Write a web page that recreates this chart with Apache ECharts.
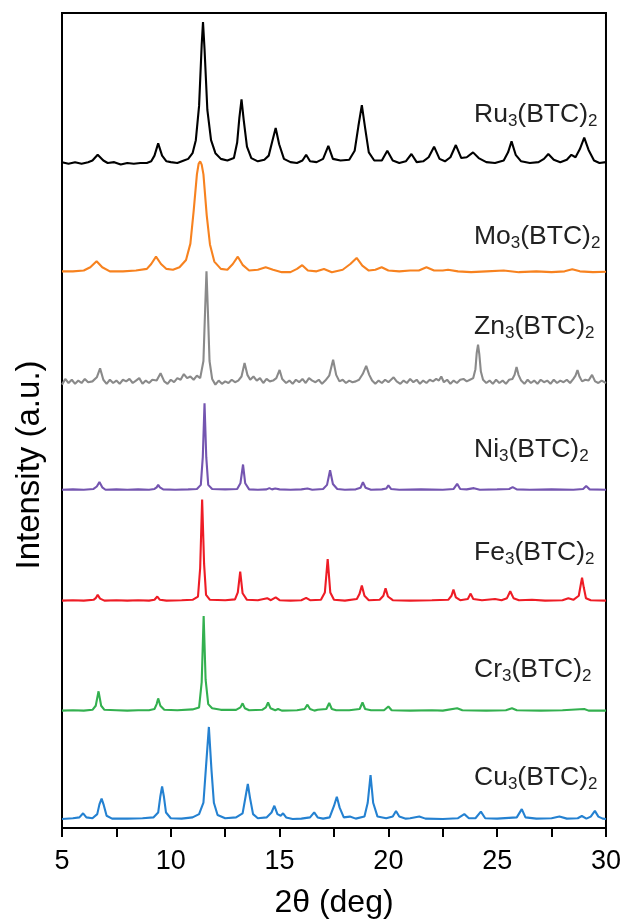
<!DOCTYPE html>
<html>
<head>
<meta charset="utf-8">
<script src="https://cdn.jsdelivr.net/npm/echarts@6/dist/echarts.min.js"></script>
<style>
html,body{margin:0;padding:0;background:#fff;}
#chart{width:624px;height:924px;}
</style>
</head>
<body>
<div id="chart"></div>
<script>
// ---- data (2θ in degrees, relative intensity in a.u.) ----
const metals = ["Ru", "Mo", "Zn", "Ni", "Fe", "Cr", "Cu"];
const offsets = [81.6, 68.2, 54.8, 41.5, 27.9, 14.4, 1.1];
const colors = ["#000000", "#f7821f", "#8a8a8a", "#7455b0", "#ee1c25", "#33b04f", "#2481d1"];
const xTicks = [5, 10, 15, 20, 25, 30];

const ru = [[5,0.1],[5.3,-0.1],[5.6,0.1],[5.9,-0.1],[6.2,0.1],[6.4,0.3],[6.64,1.0],[6.9,0.3],[7.1,0.0],[7.4,0.1],[7.7,-0.2],[8.0,0.0],[8.3,-0.1],[8.6,0.0],[8.9,0.0],[9.1,0.2],[9.25,0.9],[9.42,2.4],[9.6,0.9],[9.8,0.2],[10.0,0.1],[10.3,0.0],[10.6,0.3],[10.8,0.5],[11.0,1.2],[11.15,2.8],[11.3,7.0],[11.42,14.5],[11.48,17.3],[11.55,14.0],[11.68,6.5],[11.85,2.8],[12.05,1.2],[12.3,0.5],[12.6,0.3],[12.9,0.6],[13.05,2.5],[13.15,5.5],[13.25,7.8],[13.35,5.3],[13.5,2.0],[13.7,0.6],[14.0,0.2],[14.3,0.4],[14.5,0.9],[14.65,2.5],[14.82,4.3],[14.98,2.3],[15.2,0.5],[15.5,0.1],[15.8,0.0],[16.05,0.3],[16.22,1.0],[16.4,0.2],[16.7,0.1],[17.0,0.5],[17.24,2.1],[17.45,0.5],[17.8,0.3],[18.2,0.4],[18.45,1.5],[18.62,4.5],[18.78,7.1],[18.93,4.3],[19.1,1.3],[19.35,0.3],[19.7,0.3],[19.95,1.5],[20.2,0.3],[20.5,0.0],[20.8,0.2],[21.06,1.1],[21.3,0.1],[21.6,0.2],[21.85,0.7],[22.1,2.0],[22.35,0.5],[22.6,0.2],[22.85,0.7],[23.1,2.2],[23.35,0.6],[23.6,0.7],[23.89,1.3],[24.15,0.6],[24.5,0.1],[24.9,0.0],[25.3,0.3],[25.5,1.3],[25.66,2.65],[25.85,1.0],[26.1,0.2],[26.5,0.0],[26.9,0.1],[27.15,0.5],[27.35,1.1],[27.6,0.4],[27.9,0.1],[28.2,0.4],[28.41,1.0],[28.6,0.7],[28.8,1.7],[29.0,3.1],[29.2,1.6],[29.45,0.3],[29.7,0.0],[30,0.1]];

const mo = [[5,0.1],[5.5,0.1],[6.0,0.2],[6.3,0.6],[6.59,1.35],[6.85,0.6],[7.2,0.1],[7.8,0.1],[8.4,0.2],[8.9,0.4],[9.1,1.0],[9.32,1.9],[9.55,1.0],[9.8,0.4],[10.1,0.3],[10.4,0.6],[10.7,1.5],[10.9,3.5],[11.05,7.5],[11.2,12.0],[11.28,13.3],[11.35,13.6],[11.42,13.2],[11.5,12.0],[11.65,7.0],[11.8,3.4],[12.0,1.3],[12.3,0.4],[12.6,0.3],[12.85,1.0],[13.08,1.9],[13.3,0.9],[13.6,0.2],[14.0,0.3],[14.36,0.6],[14.7,0.3],[15.1,0.0],[15.5,0.0],[15.8,0.4],[16.04,0.86],[16.3,0.2],[16.7,0.1],[17.04,0.4],[17.4,0.0],[17.9,0.3],[18.25,1.0],[18.54,1.75],[18.8,0.8],[19.1,0.2],[19.4,0.3],[19.69,0.6],[20.0,0.2],[20.5,0.1],[21.0,0.2],[21.4,0.2],[21.75,0.6],[22.1,0.2],[22.5,0.2],[22.74,0.3],[23.2,0.1],[23.8,0.0],[24.5,0.1],[25.3,0.2],[26.0,0.0],[26.8,0.1],[27.5,0.0],[28.1,0.1],[28.45,0.35],[28.8,0.1],[29.4,0.0],[30,0.05]];

const zn = [[5,-0.4],[5.15,0.3],[5.3,-0.2],[5.45,0.2],[5.6,-0.3],[5.75,0.1],[5.9,-0.2],[6.05,0.3],[6.2,-0.1],[6.4,0.0],[6.6,0.5],[6.75,1.6],[6.9,0.2],[7.05,-0.3],[7.2,0.2],[7.35,-0.2],[7.5,0.1],[7.65,-0.3],[7.8,0.2],[7.95,0.0],[8.1,0.3],[8.25,-0.2],[8.4,0.1],[8.55,0.4],[8.7,-0.3],[8.85,0.1],[9.0,-0.2],[9.15,0.2],[9.35,0.1],[9.53,1.0],[9.7,0.0],[9.85,-0.3],[10.0,0.2],[10.15,-0.1],[10.3,0.4],[10.45,0.2],[10.6,0.9],[10.75,0.4],[10.9,0.6],[11.05,0.2],[11.2,0.7],[11.35,0.4],[11.5,2.5],[11.58,9.0],[11.64,13.5],[11.7,9.0],[11.78,2.5],[11.9,0.3],[12.05,-0.4],[12.2,0.1],[12.35,-0.3],[12.5,0.0],[12.65,-0.2],[12.8,0.2],[12.95,-0.1],[13.1,0.1],[13.25,0.6],[13.39,2.25],[13.52,0.8],[13.65,0.2],[13.8,0.6],[13.95,0.1],[14.1,0.4],[14.25,-0.2],[14.4,0.3],[14.55,0.0],[14.7,0.1],[14.85,0.4],[15.0,1.4],[15.12,0.3],[15.3,-0.2],[15.45,0.1],[15.6,-0.3],[15.75,0.2],[15.9,-0.1],[16.05,0.3],[16.2,-0.2],[16.35,0.4],[16.5,0.1],[16.65,-0.1],[16.8,0.2],[16.95,-0.3],[17.1,0.1],[17.28,0.7],[17.46,2.65],[17.6,0.8],[17.75,0.0],[17.9,0.2],[18.05,-0.2],[18.2,0.1],[18.35,-0.1],[18.5,0.0],[18.65,0.2],[18.82,0.9],[18.98,1.9],[19.12,0.8],[19.25,0.1],[19.4,-0.3],[19.55,0.1],[19.7,-0.2],[19.85,0.2],[20.0,-0.1],[20.12,0.2],[20.24,0.5],[20.38,0.0],[20.55,-0.3],[20.7,0.1],[20.85,-0.2],[21.0,0.3],[21.15,-0.1],[21.3,0.2],[21.45,-0.3],[21.6,0.1],[21.75,-0.2],[21.9,0.2],[22.05,0.0],[22.2,0.3],[22.32,0.1],[22.43,0.6],[22.55,-0.1],[22.7,0.2],[22.85,-0.3],[23.0,0.1],[23.15,-0.2],[23.3,0.2],[23.45,0.3],[23.6,0.0],[23.75,0.2],[23.9,0.4],[24.0,1.5],[24.06,3.5],[24.12,4.5],[24.18,3.3],[24.25,1.2],[24.35,0.2],[24.5,-0.2],[24.65,0.1],[24.8,-0.3],[24.95,0.2],[25.1,-0.2],[25.25,0.1],[25.4,-0.3],[25.55,0.2],[25.7,0.3],[25.8,0.8],[25.89,1.75],[25.98,0.8],[26.1,0.1],[26.25,-0.3],[26.4,0.2],[26.55,-0.2],[26.7,0.1],[26.85,-0.3],[27.0,0.2],[27.15,-0.1],[27.3,0.1],[27.45,-0.3],[27.6,0.2],[27.75,-0.2],[27.9,0.1],[28.05,-0.1],[28.2,0.2],[28.35,-0.2],[28.5,0.3],[28.6,0.7],[28.69,1.4],[28.78,0.6],[28.9,0.0],[29.05,0.2],[29.2,0.1],[29.36,0.8],[29.5,0.0],[29.65,-0.2],[29.8,0.1],[30,-0.2]];

const ni = [[5,0.0],[5.5,0.05],[6.0,0.0],[6.45,0.1],[6.6,0.4],[6.72,0.94],[6.85,0.3],[7.0,0.0],[7.5,0.05],[8.0,0.0],[8.5,0.05],[9.0,0.0],[9.25,0.1],[9.35,0.3],[9.42,0.6],[9.5,0.3],[9.65,0.05],[10.2,0.0],[10.8,0.05],[11.2,0.1],[11.38,0.6],[11.47,4.0],[11.55,10.6],[11.63,4.0],[11.72,0.6],[11.9,0.1],[12.5,0.05],[13.05,0.1],[13.2,0.8],[13.32,3.1],[13.42,0.8],[13.6,0.05],[14.0,0.0],[14.4,0.05],[14.53,0.2],[14.65,0.05],[14.8,0.15],[14.89,0.37],[15.0,0.05],[15.5,0.0],[16.0,0.05],[16.28,0.15],[16.5,0.0],[17.0,0.1],[17.18,0.6],[17.32,2.4],[17.45,0.7],[17.65,0.1],[18.0,0.0],[18.5,0.05],[18.72,0.25],[18.83,0.94],[18.95,0.25],[19.2,0.0],[19.7,0.05],[19.9,0.15],[20.0,0.53],[20.12,0.1],[20.5,0.0],[21.5,0.05],[22.5,0.0],[23.0,0.1],[23.16,0.73],[23.3,0.1],[23.6,0.05],[23.93,0.2],[24.2,0.0],[25.0,0.05],[25.55,0.1],[25.71,0.33],[25.9,0.05],[26.5,0.0],[27.5,0.05],[28.5,0.0],[28.95,0.1],[29.09,0.45],[29.25,0.05],[30,0.0]];

const fe = [[5,0.0],[5.5,0.05],[6.0,0.0],[6.45,0.1],[6.55,0.3],[6.64,0.7],[6.75,0.25],[6.95,0.0],[7.5,0.05],[8.0,0.0],[8.5,0.05],[9.0,0.0],[9.25,0.1],[9.38,0.5],[9.5,0.1],[9.8,0.0],[10.5,0.05],[11.0,0.1],[11.25,0.5],[11.35,4.0],[11.44,12.4],[11.53,4.5],[11.62,0.7],[11.8,0.1],[12.5,0.05],[12.95,0.15],[13.08,1.0],[13.19,3.55],[13.3,0.9],[13.5,0.1],[14.0,0.05],[14.43,0.3],[14.6,0.05],[14.82,0.4],[15.0,0.05],[15.5,0.0],[16.0,0.05],[16.22,0.33],[16.4,0.05],[16.9,0.1],[17.08,1.0],[17.21,5.1],[17.33,1.0],[17.5,0.1],[18.0,0.0],[18.55,0.2],[18.67,0.8],[18.78,1.84],[18.9,0.6],[19.1,0.05],[19.6,0.1],[19.77,0.6],[19.87,1.5],[19.98,0.5],[20.2,0.05],[21.0,0.0],[22.0,0.05],[22.75,0.1],[22.9,0.6],[22.99,1.35],[23.1,0.4],[23.3,0.05],[23.65,0.2],[23.78,0.86],[23.9,0.2],[24.3,0.05],[24.9,0.2],[25.2,0.05],[25.45,0.3],[25.6,1.14],[25.75,0.3],[26.0,0.05],[26.6,0.1],[27.2,0.0],[28.0,0.05],[28.27,0.3],[28.5,0.1],[28.75,0.6],[28.83,1.8],[28.9,2.8],[28.98,1.6],[29.08,0.3],[29.3,0.05],[30,0.0]];

const cr = [[5,0.0],[5.5,0.05],[6.0,0.0],[6.4,0.1],[6.55,0.6],[6.68,2.37],[6.8,0.6],[6.95,0.1],[7.5,0.05],[8.0,0.0],[8.5,0.05],[9.0,0.05],[9.25,0.2],[9.35,0.8],[9.42,1.5],[9.52,0.6],[9.7,0.1],[10.3,0.05],[11.0,0.15],[11.3,0.4],[11.42,3.5],[11.51,11.6],[11.6,3.8],[11.72,0.8],[11.9,0.3],[12.3,0.1],[13.0,0.1],[13.2,0.4],[13.3,0.9],[13.4,0.3],[13.6,0.05],[14.2,0.1],[14.37,0.4],[14.47,1.0],[14.58,0.3],[14.8,0.05],[14.93,0.2],[15.1,0.0],[15.8,0.05],[16.15,0.2],[16.28,0.73],[16.4,0.2],[16.6,0.0],[16.75,0.1],[17.15,0.2],[17.28,0.94],[17.4,0.2],[17.6,0.05],[18.2,0.05],[18.68,0.2],[18.81,1.0],[18.93,0.2],[19.2,0.05],[19.8,0.05],[20.0,0.5],[20.15,0.05],[21.0,0.0],[22.0,0.05],[22.5,0.0],[23.16,0.3],[23.4,0.05],[24.5,0.0],[25.4,0.05],[25.68,0.3],[25.9,0.05],[27.0,0.0],[28.0,0.05],[29.0,0.2],[29.2,0.0],[30,0.0]];

const cu = [[5,0.0],[5.5,0.1],[5.8,0.2],[5.97,0.7],[6.12,0.2],[6.4,0.1],[6.62,0.6],[6.72,1.8],[6.82,2.5],[6.92,1.7],[7.05,0.4],[7.3,0.05],[8.0,0.05],[8.7,0.1],[9.2,0.2],[9.42,0.8],[9.52,2.8],[9.6,4.0],[9.68,2.8],[9.78,0.8],[10.0,0.1],[10.5,0.05],[11.0,0.2],[11.3,0.6],[11.5,2.0],[11.62,6.5],[11.75,11.3],[11.87,6.0],[11.98,2.0],[12.15,0.5],[12.5,0.1],[13.0,0.2],[13.3,0.7],[13.44,2.8],[13.54,4.3],[13.64,2.6],[13.78,0.6],[14.0,0.1],[14.4,0.2],[14.63,0.8],[14.76,1.63],[14.9,0.6],[15.05,0.4],[15.16,0.7],[15.3,0.2],[15.6,0.0],[16.0,0.05],[16.4,0.2],[16.59,0.82],[16.75,0.2],[17.0,0.05],[17.3,0.2],[17.5,1.6],[17.63,2.73],[17.76,1.4],[17.95,0.2],[18.23,0.3],[18.5,0.05],[18.9,0.3],[19.05,2.0],[19.18,5.4],[19.3,2.0],[19.5,0.3],[19.9,0.1],[20.2,0.3],[20.35,0.98],[20.5,0.3],[20.8,0.05],[21.0,0.1],[21.42,0.3],[21.7,0.05],[22.5,0.0],[23.2,0.1],[23.49,0.6],[23.7,0.1],[24.0,0.1],[24.25,0.9],[24.45,0.1],[25.0,0.05],[25.9,0.2],[26.13,1.22],[26.3,0.2],[26.8,0.05],[27.5,0.1],[27.86,0.3],[28.2,0.05],[28.7,0.1],[28.89,0.37],[29.1,0.05],[29.3,0.3],[29.49,1.0],[29.65,0.3],[29.85,0.05],[30,0.0]];

const patterns = [ru, mo, zn, ni, fe, cr, cu];

// ---- chart ----
const FONT = '"Liberation Sans", Arial, Helvetica, sans-serif';
const labelY = [115, 237, 327, 450, 553, 670, 778];

const chart = echarts.init(document.getElementById('chart'), null, {renderer: 'canvas'});

const series = patterns.map((p, i) => ({
  type: 'line',
  name: metals[i] + '3(BTC)2',
  data: p.map(d => [d[0], d[1] + offsets[i]]),
  showSymbol: false,
  symbol: 'none',
  smooth: false,
  animation: false,
  lineStyle: {color: colors[i], width: 2.1},
  z: 10 - i
}));

const graphics = metals.map((m, i) => ({
  type: 'text',
  x: 474,
  y: labelY[i],
  style: {
    text: '{a|' + m + '}{s|3}{a|(BTC)}{s|2}',
    fill: '#222',
    textVerticalAlign: 'middle',
    textAlign: 'left',
    rich: {
      a: {fontFamily: FONT, fontSize: 26.5, lineHeight: 30, fill: '#222'},
      s: {fontFamily: FONT, fontSize: 17, lineHeight: 14, verticalAlign: 'bottom', fill: '#222'}
    }
  }
}));
graphics.push({
  type: 'text',
  x: 30,
  y: 465,
  rotation: Math.PI / 2,
  style: {
    text: 'Intensity (a.u.)',
    fontFamily: FONT,
    fontSize: 33,
    fill: '#000',
    textAlign: 'center',
    textVerticalAlign: 'middle'
  }
});

chart.setOption({
  backgroundColor: '#fff',
  animation: false,
  grid: {left: 62, right: 17, top: 13, bottom: 94, show: true, borderColor: '#000', borderWidth: 2, containLabel: false},
  xAxis: {
    type: 'value', min: 5, max: 30, interval: 2.5,
    name: '2θ (deg)', nameLocation: 'middle', nameGap: 59,
    nameTextStyle: {fontFamily: FONT, fontSize: 32, color: '#000'},
    axisLine: {show: true, lineStyle: {color: '#000', width: 2}},
    axisTick: {show: true, inside: false, length: 9, lineStyle: {color: '#000', width: 2}},
    axisLabel: {
      margin: 20, fontFamily: FONT, fontSize: 27, color: '#000',
      formatter: v => (xTicks.indexOf(v) >= 0 ? String(v) : '')
    },
    splitLine: {show: false}
  },
  yAxis: {
    type: 'value', min: 0, max: 100,
    axisLine: {show: true, lineStyle: {color: '#000', width: 2}},
    axisTick: {show: false}, axisLabel: {show: false}, splitLine: {show: false}
  },
  series: series,
  graphic: graphics
});
</script>
</body>
</html>
